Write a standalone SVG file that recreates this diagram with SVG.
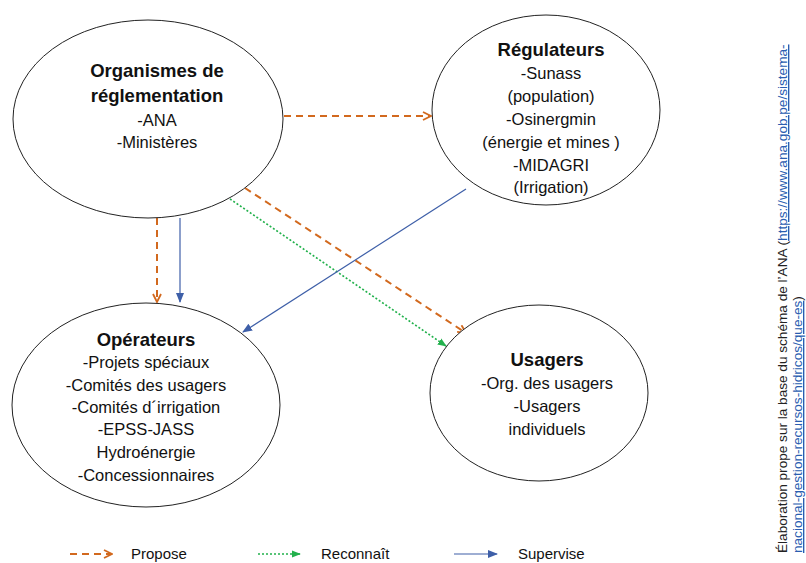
<svg xmlns="http://www.w3.org/2000/svg" width="806" height="563" viewBox="0 0 806 563">
<style>
.node{fill:#fff;stroke:#222;stroke-width:1}
text{font-family:"Liberation Sans",Arial,sans-serif;fill:#111}
.t{font-size:16.5px;text-anchor:middle}
.b{font-size:18.5px;font-weight:bold;text-anchor:middle}
.prop{stroke:#d2691e;stroke-width:2;stroke-dasharray:7,5;fill:none}
.rec{stroke:#22b14c;stroke-width:1.6;stroke-dasharray:2,2;fill:none}
.sup{stroke:#3e5fa8;stroke-width:1.2;fill:none}
.lg{font-size:15px}
.note{font-size:13.6px;fill:#222}
.url{fill:#2a5db0;text-decoration:underline}
</style>
<defs>
<marker id="mProp" viewBox="0 0 10 10" refX="9" refY="5" markerWidth="10" markerHeight="10" markerUnits="userSpaceOnUse" orient="auto"><path d="M1,1 L9,5 L1,9" fill="none" stroke="#d2691e" stroke-width="1.8"/></marker>
<marker id="mRec" viewBox="0 0 10 10" refX="9" refY="5" markerWidth="9" markerHeight="9" markerUnits="userSpaceOnUse" orient="auto"><path d="M0,1 L10,5 L0,9 Z" fill="#22b14c"/></marker>
<marker id="mSup" viewBox="0 0 10 10" refX="9" refY="5" markerWidth="10" markerHeight="10" markerUnits="userSpaceOnUse" orient="auto"><path d="M0,1 L10,5 L0,9 Z" fill="#3e5fa8"/></marker>
</defs>
<g id="connectors">
<line class="prop" x1="284" y1="116" x2="431" y2="116" marker-end="url(#mProp)"/>
<line class="prop" x1="245" y1="188" x2="466" y2="333" marker-end="url(#mProp)"/>
<line class="rec" x1="230" y1="199" x2="446" y2="346" marker-end="url(#mRec)"/>
<line class="sup" x1="466" y1="189" x2="243" y2="332" marker-end="url(#mSup)"/>
<line class="prop" x1="157" y1="218" x2="157" y2="302" marker-end="url(#mProp)"/>
<line class="sup" x1="180" y1="218" x2="180" y2="302" marker-end="url(#mSup)"/>
</g>
<g id="n-organismes">
<ellipse class="node" cx="148" cy="119" rx="135" ry="99"/>
<text class="b" x="157" y="77">Organismes de</text>
<text class="b" x="157" y="102">réglementation</text>
<text class="t" x="157" y="126">-ANA</text>
<text class="t" x="157" y="148">-Ministères</text>
</g>
<g id="n-regulateurs">
<ellipse class="node" cx="546" cy="110" rx="114" ry="95"/>
<text class="b" x="551" y="56">Régulateurs</text>
<text class="t" x="551" y="79">-Sunass</text>
<text class="t" x="551" y="102">(population)</text>
<text class="t" x="551" y="125">-Osinergmin</text>
<text class="t" x="551" y="148">(énergie et mines )</text>
<text class="t" x="551" y="171">-MIDAGRI</text>
<text class="t" x="551" y="193">(Irrigation)</text>
</g>
<g id="n-operateurs">
<ellipse class="node" cx="146" cy="405" rx="134" ry="102"/>
<text class="b" x="146" y="346">Opérateurs</text>
<text class="t" x="146" y="368">-Projets spéciaux</text>
<text class="t" x="146" y="391">-Comités des usagers</text>
<text class="t" x="146" y="413">-Comités d´irrigation</text>
<text class="t" x="146" y="435">-EPSS-JASS</text>
<text class="t" x="146" y="458">Hydroénergie</text>
<text class="t" x="146" y="481">-Concessionnaires</text>
</g>
<g id="n-usagers">
<ellipse class="node" cx="539" cy="393" rx="109" ry="88"/>
<text class="b" x="547" y="366">Usagers</text>
<text class="t" x="547" y="389">-Org. des usagers</text>
<text class="t" x="547" y="412">-Usagers</text>
<text class="t" x="547" y="435">individuels</text>
</g>
<g id="legend">
<line class="prop" x1="70" y1="554" x2="112" y2="554" marker-end="url(#mProp)"/>
<text class="lg" x="131" y="559">Propose</text>
<line class="rec" x1="258" y1="554" x2="300" y2="554" marker-end="url(#mRec)"/>
<text class="lg" x="321" y="559">Reconnaît</text>
<line class="sup" x1="454" y1="554" x2="497" y2="554" marker-end="url(#mSup)"/>
<text class="lg" x="518" y="559">Supervise</text>
</g>
<g id="source">
<text class="note" transform="translate(787,553) rotate(-90)">Élaboration prope sur la base du schéma de l’ANA (<tspan class="url">https://www.ana.gob.pe/sistema-</tspan></text>
<text class="note" transform="translate(802,553) rotate(-90)"><tspan class="url">nacional-gestion-recursos-hidricos/que-es</tspan>)</text>
</g>
</svg>
